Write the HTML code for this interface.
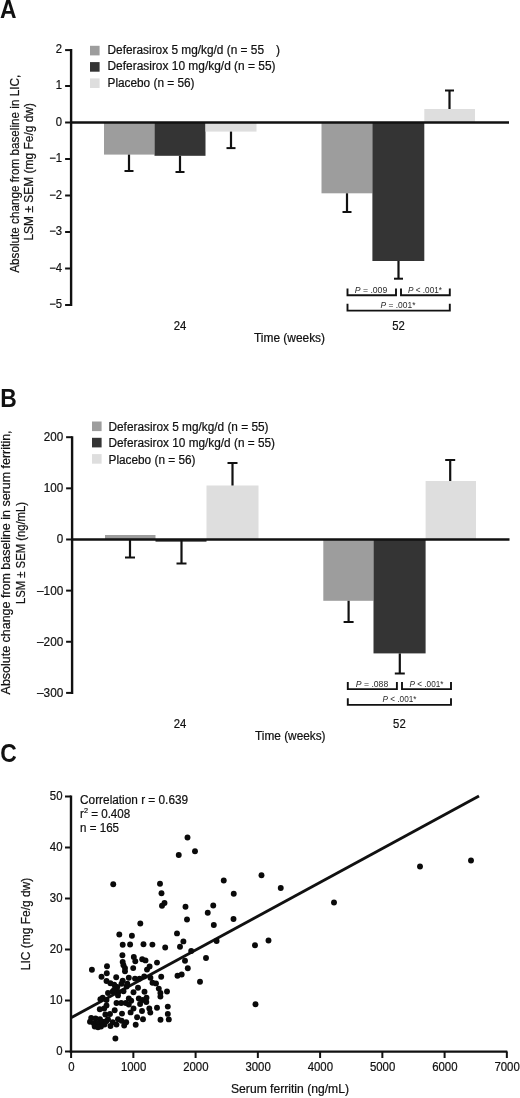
<!DOCTYPE html><html><head><meta charset="utf-8"><style>html,body{margin:0;padding:0;background:#fff}svg{display:block}text{font-family:"Liberation Sans",sans-serif;fill:#111;stroke:#111;stroke-width:0.22px}</style></head><body>
<svg width="520" height="1098" viewBox="0 0 520 1098">
<rect width="520" height="1098" fill="#fff"/>
<g style="opacity:0.999">
<text transform="translate(0.1 18.1) scale(0.9 1)" font-size="25.4" font-weight="bold" style="stroke:none">A</text>
<rect x="90" y="45.8" width="9.6" height="9.6" fill="#9d9d9d"/>
<text x="107.5" y="53.7" font-size="12" text-anchor="start" textLength="156.5" lengthAdjust="spacingAndGlyphs">Deferasirox 5 mg/kg/d (n = 55</text>
<rect x="90" y="62.099999999999994" width="9.6" height="9.6" fill="#343434"/>
<text x="107.5" y="70.4" font-size="12" text-anchor="start" textLength="168" lengthAdjust="spacingAndGlyphs">Deferasirox 10 mg/kg/d (n = 55)</text>
<rect x="90" y="78.4" width="9.6" height="9.6" fill="#dedede"/>
<text x="107.5" y="87.1" font-size="12" text-anchor="start" textLength="87" lengthAdjust="spacingAndGlyphs">Placebo (n = 56)</text>
<text x="276" y="53.7" font-size="12" text-anchor="start">)</text>
<rect x="104" y="122.5" width="50.5" height="32.099999999999994" fill="#9d9d9d"/>
<rect x="154.5" y="122.5" width="51" height="33.30000000000001" fill="#343434"/>
<rect x="205.5" y="122.5" width="51" height="9.099999999999994" fill="#dedede"/>
<rect x="321.5" y="122.5" width="51" height="70.80000000000001" fill="#9d9d9d"/>
<rect x="372.4" y="122.5" width="51.9" height="138.5" fill="#343434"/>
<rect x="424.3" y="109" width="50.7" height="13.5" fill="#dedede"/>
<path d="M129 154.6V171" stroke="#111" stroke-width="2.2" fill="none"/><path d="M124.5 171H133.5" stroke="#111" stroke-width="2" fill="none"/>
<path d="M180 155.8V172" stroke="#111" stroke-width="2.2" fill="none"/><path d="M175.5 172H184.5" stroke="#111" stroke-width="2" fill="none"/>
<path d="M231 131.6V148.1" stroke="#111" stroke-width="2.2" fill="none"/><path d="M226.5 148.1H235.5" stroke="#111" stroke-width="2" fill="none"/>
<path d="M347 193.3V212" stroke="#111" stroke-width="2.2" fill="none"/><path d="M342.5 212H351.5" stroke="#111" stroke-width="2" fill="none"/>
<path d="M398.5 261V278.7" stroke="#111" stroke-width="2.2" fill="none"/><path d="M394.0 278.7H403.0" stroke="#111" stroke-width="2" fill="none"/>
<path d="M449.5 109V90.5" stroke="#111" stroke-width="2.2" fill="none"/><path d="M445.0 90.5H454.0" stroke="#111" stroke-width="2" fill="none"/>
<path d="M71 122.5H509" stroke="#111" stroke-width="2.3"/>
<path d="M71.1 49.1V306" stroke="#111" stroke-width="2.4"/>
<path d="M65.1 50.1H71.1" stroke="#111" stroke-width="2"/>
<text x="62" y="53.4" font-size="12" text-anchor="end" textLength="6.27" lengthAdjust="spacingAndGlyphs">2</text>
<path d="M65.1 86.0H71.1" stroke="#111" stroke-width="2"/>
<text x="62" y="89.3" font-size="12" text-anchor="end" textLength="6.27" lengthAdjust="spacingAndGlyphs">1</text>
<path d="M65.1 122.5H71.1" stroke="#111" stroke-width="2"/>
<text x="62" y="125.8" font-size="12" text-anchor="end" textLength="6.27" lengthAdjust="spacingAndGlyphs">0</text>
<path d="M65.1 159.0H71.1" stroke="#111" stroke-width="2"/>
<text x="62" y="162.3" font-size="12" text-anchor="end" textLength="12.86" lengthAdjust="spacingAndGlyphs">−1</text>
<path d="M65.1 195.5H71.1" stroke="#111" stroke-width="2"/>
<text x="62" y="198.8" font-size="12" text-anchor="end" textLength="12.86" lengthAdjust="spacingAndGlyphs">−2</text>
<path d="M65.1 232.0H71.1" stroke="#111" stroke-width="2"/>
<text x="62" y="235.3" font-size="12" text-anchor="end" textLength="12.86" lengthAdjust="spacingAndGlyphs">−3</text>
<path d="M65.1 268.5H71.1" stroke="#111" stroke-width="2"/>
<text x="62" y="271.8" font-size="12" text-anchor="end" textLength="12.86" lengthAdjust="spacingAndGlyphs">−4</text>
<path d="M65.1 305.0H71.1" stroke="#111" stroke-width="2"/>
<text x="62" y="308.3" font-size="12" text-anchor="end" textLength="12.86" lengthAdjust="spacingAndGlyphs">−5</text>
<path d="M347.5 288.5V295.3H396V288.5" stroke="#111" stroke-width="1.9" fill="none"/>
<path d="M401 288.5V295.3H449.8V288.5" stroke="#111" stroke-width="1.9" fill="none"/>
<path d="M347.5 303.8V310.6H449.8V303.8" stroke="#111" stroke-width="1.9" fill="none"/>
<text x="371" y="293" font-size="8.3" text-anchor="middle" style="stroke:none;fill:#2a2a2a" textLength="32.5" lengthAdjust="spacingAndGlyphs"><tspan font-style="italic">P</tspan> = .009</text>
<text x="425" y="293" font-size="8.3" text-anchor="middle" style="stroke:none;fill:#2a2a2a" textLength="34" lengthAdjust="spacingAndGlyphs"><tspan font-style="italic">P</tspan> &lt; .001*</text>
<text x="398" y="308.3" font-size="8.3" text-anchor="middle" style="stroke:none;fill:#2a2a2a" textLength="35" lengthAdjust="spacingAndGlyphs"><tspan font-style="italic">P</tspan> = .001*</text>
<text x="180" y="329.9" font-size="12.6" text-anchor="middle" textLength="12.61" lengthAdjust="spacingAndGlyphs">24</text>
<text x="398.5" y="329.9" font-size="12.6" text-anchor="middle" textLength="12.61" lengthAdjust="spacingAndGlyphs">52</text>
<text x="289.5" y="341.5" font-size="12" text-anchor="middle" textLength="71" lengthAdjust="spacingAndGlyphs">Time (weeks)</text>
<text x="19" y="173.8" font-size="12" text-anchor="middle" textLength="198" lengthAdjust="spacingAndGlyphs" transform="rotate(-90 19 173.8)">Absolute change from baseline in LIC,</text>
<text x="32.8" y="171.8" font-size="12" text-anchor="middle" textLength="137.5" lengthAdjust="spacingAndGlyphs" transform="rotate(-90 32.8 171.8)">LSM ± SEM (mg Fe/g dw)</text>
<text transform="translate(0.15 407) scale(0.9 1)" font-size="25.4" font-weight="bold" style="stroke:none">B</text>
<rect x="92" y="421.5" width="9.6" height="9.6" fill="#9d9d9d"/>
<text x="108.5" y="431" font-size="12" text-anchor="start" textLength="160" lengthAdjust="spacingAndGlyphs">Deferasirox 5 mg/kg/d (n = 55)</text>
<rect x="92" y="437.8" width="9.6" height="9.6" fill="#343434"/>
<text x="108.5" y="447.4" font-size="12" text-anchor="start" textLength="166.5" lengthAdjust="spacingAndGlyphs">Deferasirox 10 mg/kg/d (n = 55)</text>
<rect x="92" y="454.1" width="9.6" height="9.6" fill="#dedede"/>
<text x="108.5" y="463.7" font-size="12" text-anchor="start" textLength="87" lengthAdjust="spacingAndGlyphs">Placebo (n = 56)</text>
<rect x="105" y="535" width="50.5" height="4.5" fill="#9d9d9d"/>
<rect x="155.5" y="539.5" width="51" height="2.2" fill="#343434"/>
<rect x="206.5" y="485.5" width="52" height="54.0" fill="#dedede"/>
<rect x="323.3" y="539.5" width="50.2" height="61.299999999999955" fill="#9d9d9d"/>
<rect x="373.5" y="539.5" width="52.1" height="113.89999999999998" fill="#343434"/>
<rect x="425.6" y="481" width="50.4" height="58.5" fill="#dedede"/>
<path d="M130 539.5V557.5" stroke="#111" stroke-width="2.2" fill="none"/><path d="M125.0 557.5H135.0" stroke="#111" stroke-width="2" fill="none"/>
<path d="M181.5 539.5V563.5" stroke="#111" stroke-width="2.2" fill="none"/><path d="M176.5 563.5H186.5" stroke="#111" stroke-width="2" fill="none"/>
<path d="M232.5 485.5V463" stroke="#111" stroke-width="2.2" fill="none"/><path d="M227.5 463H237.5" stroke="#111" stroke-width="2" fill="none"/>
<path d="M348.6 600.8V622" stroke="#111" stroke-width="2.2" fill="none"/><path d="M343.6 622H353.6" stroke="#111" stroke-width="2" fill="none"/>
<path d="M399.8 653.4V673.5" stroke="#111" stroke-width="2.2" fill="none"/><path d="M394.8 673.5H404.8" stroke="#111" stroke-width="2" fill="none"/>
<path d="M450.2 481V460" stroke="#111" stroke-width="2.2" fill="none"/><path d="M445.2 460H455.2" stroke="#111" stroke-width="2" fill="none"/>
<path d="M72.5 539.5H509.5" stroke="#111" stroke-width="2.3"/>
<path d="M72.1 436.2V693.9" stroke="#111" stroke-width="2.4"/>
<path d="M66.1 437.2H72.1" stroke="#111" stroke-width="2"/>
<text x="63.3" y="441.09999999999997" font-size="12.4" text-anchor="end" textLength="19.44" lengthAdjust="spacingAndGlyphs">200</text>
<path d="M66.1 488.34H72.1" stroke="#111" stroke-width="2"/>
<text x="63.3" y="492.23999999999995" font-size="12.4" text-anchor="end" textLength="19.44" lengthAdjust="spacingAndGlyphs">100</text>
<path d="M66.1 539.48H72.1" stroke="#111" stroke-width="2"/>
<text x="63.3" y="543.38" font-size="12.4" text-anchor="end" textLength="6.48" lengthAdjust="spacingAndGlyphs">0</text>
<path d="M66.1 590.62H72.1" stroke="#111" stroke-width="2"/>
<text x="63.3" y="594.52" font-size="12.4" text-anchor="end" textLength="26.25" lengthAdjust="spacingAndGlyphs">–100</text>
<path d="M66.1 641.76H72.1" stroke="#111" stroke-width="2"/>
<text x="63.3" y="645.66" font-size="12.4" text-anchor="end" textLength="26.25" lengthAdjust="spacingAndGlyphs">–200</text>
<path d="M66.1 692.9H72.1" stroke="#111" stroke-width="2"/>
<text x="63.3" y="696.8" font-size="12.4" text-anchor="end" textLength="26.25" lengthAdjust="spacingAndGlyphs">–300</text>
<path d="M347.8 682V689.1H396.9V682" stroke="#111" stroke-width="1.9" fill="none"/>
<path d="M402 682V689.1H451V682" stroke="#111" stroke-width="1.9" fill="none"/>
<path d="M347.8 698.2V704.9H451V698.2" stroke="#111" stroke-width="1.9" fill="none"/>
<text x="372" y="686.8" font-size="8.3" text-anchor="middle" style="stroke:none;fill:#2a2a2a" textLength="32.5" lengthAdjust="spacingAndGlyphs"><tspan font-style="italic">P</tspan> = .088</text>
<text x="426.5" y="686.8" font-size="8.3" text-anchor="middle" style="stroke:none;fill:#2a2a2a" textLength="34" lengthAdjust="spacingAndGlyphs"><tspan font-style="italic">P</tspan> &lt; .001*</text>
<text x="399.5" y="702.3" font-size="8.3" text-anchor="middle" style="stroke:none;fill:#2a2a2a" textLength="34" lengthAdjust="spacingAndGlyphs"><tspan font-style="italic">P</tspan> &lt; .001*</text>
<text x="180" y="728.2" font-size="12.6" text-anchor="middle" textLength="12.61" lengthAdjust="spacingAndGlyphs">24</text>
<text x="399.4" y="728.2" font-size="12.6" text-anchor="middle" textLength="12.61" lengthAdjust="spacingAndGlyphs">52</text>
<text x="290.3" y="740.4" font-size="12" text-anchor="middle" textLength="70.5" lengthAdjust="spacingAndGlyphs">Time (weeks)</text>
<text x="10" y="562.4" font-size="12" text-anchor="middle" textLength="264" lengthAdjust="spacingAndGlyphs" transform="rotate(-90 10 562.4)">Absolute change from baseline in serum ferritin,</text>
<text x="25" y="553" font-size="12" text-anchor="middle" textLength="102" lengthAdjust="spacingAndGlyphs" transform="rotate(-90 25 553)">LSM ± SEM (ng/mL)</text>
<text transform="translate(0.2 761.7) scale(0.9 1)" font-size="25.4" font-weight="bold" style="stroke:none">C</text>
<path d="M71 795.5V1052.7" stroke="#111" stroke-width="2.4"/>
<path d="M69.8 1051.6H507.3" stroke="#111" stroke-width="2.3"/>
<path d="M65 796.5H71" stroke="#111" stroke-width="2"/>
<text x="62.5" y="800.0" font-size="12" text-anchor="end" textLength="12.68" lengthAdjust="spacingAndGlyphs">50</text>
<path d="M65 847.5H71" stroke="#111" stroke-width="2"/>
<text x="62.5" y="851.0" font-size="12" text-anchor="end" textLength="12.68" lengthAdjust="spacingAndGlyphs">40</text>
<path d="M65 898.5H71" stroke="#111" stroke-width="2"/>
<text x="62.5" y="902.0" font-size="12" text-anchor="end" textLength="12.68" lengthAdjust="spacingAndGlyphs">30</text>
<path d="M65 949.5H71" stroke="#111" stroke-width="2"/>
<text x="62.5" y="953.0" font-size="12" text-anchor="end" textLength="12.68" lengthAdjust="spacingAndGlyphs">20</text>
<path d="M65 1000.5H71" stroke="#111" stroke-width="2"/>
<text x="62.5" y="1004.0" font-size="12" text-anchor="end" textLength="12.68" lengthAdjust="spacingAndGlyphs">10</text>
<path d="M65 1051.5H71" stroke="#111" stroke-width="2"/>
<text x="62.5" y="1055.0" font-size="12" text-anchor="end" textLength="6.34" lengthAdjust="spacingAndGlyphs">0</text>
<path d="M71.1 1051.5V1058" stroke="#111" stroke-width="2"/>
<text x="71.3" y="1071.4" font-size="12" text-anchor="middle" textLength="6.34" lengthAdjust="spacingAndGlyphs">0</text>
<path d="M133.35 1051.5V1058" stroke="#111" stroke-width="2"/>
<text x="133.54999999999998" y="1071.4" font-size="12" text-anchor="middle" textLength="25.35" lengthAdjust="spacingAndGlyphs">1000</text>
<path d="M195.6 1051.5V1058" stroke="#111" stroke-width="2"/>
<text x="195.79999999999998" y="1071.4" font-size="12" text-anchor="middle" textLength="25.35" lengthAdjust="spacingAndGlyphs">2000</text>
<path d="M257.85 1051.5V1058" stroke="#111" stroke-width="2"/>
<text x="258.05" y="1071.4" font-size="12" text-anchor="middle" textLength="25.35" lengthAdjust="spacingAndGlyphs">3000</text>
<path d="M320.1 1051.5V1058" stroke="#111" stroke-width="2"/>
<text x="320.3" y="1071.4" font-size="12" text-anchor="middle" textLength="25.35" lengthAdjust="spacingAndGlyphs">4000</text>
<path d="M382.35 1051.5V1058" stroke="#111" stroke-width="2"/>
<text x="382.55" y="1071.4" font-size="12" text-anchor="middle" textLength="25.35" lengthAdjust="spacingAndGlyphs">5000</text>
<path d="M444.6 1051.5V1058" stroke="#111" stroke-width="2"/>
<text x="444.8" y="1071.4" font-size="12" text-anchor="middle" textLength="25.35" lengthAdjust="spacingAndGlyphs">6000</text>
<path d="M506.85 1051.5V1058" stroke="#111" stroke-width="2"/>
<text x="507.05" y="1071.4" font-size="12" text-anchor="middle" textLength="25.35" lengthAdjust="spacingAndGlyphs">7000</text>
<text x="80.1" y="803.7" font-size="12" text-anchor="start" textLength="108" lengthAdjust="spacingAndGlyphs">Correlation r = 0.639</text>
<text x="80.1" y="818" font-size="12" text-anchor="start" textLength="50.1" lengthAdjust="spacingAndGlyphs">r<tspan font-size="7.5" dy="-5">2</tspan><tspan dy="5"> = 0.408</tspan></text>
<text x="80.1" y="831.8" font-size="12" text-anchor="start" textLength="38.9" lengthAdjust="spacingAndGlyphs">n = 165</text>
<text x="290" y="1093" font-size="12" text-anchor="middle" textLength="118" lengthAdjust="spacingAndGlyphs">Serum ferritin (ng/mL)</text>
<text x="29.6" y="924" font-size="12" text-anchor="middle" textLength="92.5" lengthAdjust="spacingAndGlyphs" transform="rotate(-90 29.6 924)">LIC (mg Fe/g dw)</text>
<path d="M71.5 1017.5L479 796" stroke="#111" stroke-width="2.9" stroke-linecap="butt"/>
<g fill="#0a0a0a"><circle cx="187.5" cy="837.5" r="2.95"/><circle cx="195" cy="851.25" r="2.95"/><circle cx="178.75" cy="855" r="2.95"/><circle cx="113.25" cy="884.25" r="2.95"/><circle cx="160" cy="883.75" r="2.95"/><circle cx="161.5" cy="893.25" r="2.95"/><circle cx="164.5" cy="903" r="2.95"/><circle cx="162" cy="905.75" r="2.95"/><circle cx="185.5" cy="906.75" r="2.95"/><circle cx="187" cy="919.5" r="2.95"/><circle cx="140.3" cy="923.5" r="2.95"/><circle cx="223.75" cy="880.5" r="2.95"/><circle cx="261.5" cy="875.25" r="2.95"/><circle cx="280.75" cy="888" r="2.95"/><circle cx="233.75" cy="893.75" r="2.95"/><circle cx="213.25" cy="905.5" r="2.95"/><circle cx="207.75" cy="912.75" r="2.95"/><circle cx="233.5" cy="919" r="2.95"/><circle cx="213.8" cy="925" r="2.95"/><circle cx="334" cy="902.5" r="2.95"/><circle cx="420" cy="866.5" r="2.95"/><circle cx="471" cy="860.5" r="2.95"/><circle cx="268.5" cy="940.5" r="2.95"/><circle cx="255" cy="945.25" r="2.95"/><circle cx="255.5" cy="1004.25" r="2.95"/><circle cx="177" cy="933.4" r="2.95"/><circle cx="183.4" cy="941.4" r="2.95"/><circle cx="180" cy="946.8" r="2.95"/><circle cx="216.6" cy="941" r="2.95"/><circle cx="191.2" cy="951" r="2.95"/><circle cx="206" cy="958" r="2.95"/><circle cx="185" cy="960.7" r="2.95"/><circle cx="187.8" cy="968.3" r="2.95"/><circle cx="181.7" cy="974.5" r="2.95"/><circle cx="177.5" cy="975.8" r="2.95"/><circle cx="200" cy="981.7" r="2.95"/><circle cx="165.2" cy="947.5" r="2.95"/><circle cx="152.4" cy="944.6" r="2.95"/><circle cx="143.5" cy="944.2" r="2.95"/><circle cx="130.1" cy="944.5" r="2.95"/><circle cx="122.7" cy="944.7" r="2.95"/><circle cx="119.3" cy="934.5" r="2.95"/><circle cx="131.9" cy="935.8" r="2.95"/><circle cx="122.4" cy="955.3" r="2.95"/><circle cx="133.8" cy="957" r="2.95"/><circle cx="135.3" cy="961.2" r="2.95"/><circle cx="142.2" cy="959.2" r="2.95"/><circle cx="145.5" cy="960.4" r="2.95"/><circle cx="122.7" cy="961.9" r="2.95"/><circle cx="123.5" cy="965.3" r="2.95"/><circle cx="125" cy="968.1" r="2.95"/><circle cx="125" cy="971.2" r="2.95"/><circle cx="133.2" cy="968.1" r="2.95"/><circle cx="149.6" cy="966.5" r="2.95"/><circle cx="147" cy="969.6" r="2.95"/><circle cx="157" cy="962.6" r="2.95"/><circle cx="107" cy="966.2" r="2.95"/><circle cx="91.9" cy="969.7" r="2.95"/><circle cx="106.8" cy="973.3" r="2.95"/><circle cx="101.5" cy="976.7" r="2.95"/><circle cx="116.2" cy="977.2" r="2.95"/><circle cx="106.5" cy="981" r="2.95"/><circle cx="110.4" cy="983.3" r="2.95"/><circle cx="114.2" cy="984.6" r="2.95"/><circle cx="122.7" cy="980.6" r="2.95"/><circle cx="128.8" cy="977.8" r="2.95"/><circle cx="135" cy="978.6" r="2.95"/><circle cx="139.6" cy="978.6" r="2.95"/><circle cx="144.2" cy="976.4" r="2.95"/><circle cx="150.4" cy="977.8" r="2.95"/><circle cx="161.2" cy="976.8" r="2.95"/><circle cx="152.5" cy="982.8" r="2.95"/><circle cx="156" cy="983.4" r="2.95"/><circle cx="117.3" cy="987" r="2.95"/><circle cx="118.4" cy="992" r="2.95"/><circle cx="126.6" cy="986.5" r="2.95"/><circle cx="127.3" cy="983.8" r="2.95"/><circle cx="138" cy="987.7" r="2.95"/><circle cx="133.5" cy="992.3" r="2.95"/><circle cx="144.5" cy="991.7" r="2.95"/><circle cx="158.8" cy="988.6" r="2.95"/><circle cx="167" cy="991.5" r="2.95"/><circle cx="160.4" cy="992.9" r="2.95"/><circle cx="160.4" cy="996.6" r="2.95"/><circle cx="108" cy="993" r="2.95"/><circle cx="112.7" cy="991.5" r="2.95"/><circle cx="118" cy="995.4" r="2.95"/><circle cx="102.7" cy="997.7" r="2.95"/><circle cx="100.4" cy="999.2" r="2.95"/><circle cx="106.5" cy="1000" r="2.95"/><circle cx="128.8" cy="998.5" r="2.95"/><circle cx="131.2" cy="1000.8" r="2.95"/><circle cx="138.8" cy="998.5" r="2.95"/><circle cx="142.7" cy="1000" r="2.95"/><circle cx="146.5" cy="997.7" r="2.95"/><circle cx="146.3" cy="1002" r="2.95"/><circle cx="116.5" cy="1003" r="2.95"/><circle cx="121.2" cy="1003" r="2.95"/><circle cx="125.8" cy="1003" r="2.95"/><circle cx="128.8" cy="1004.6" r="2.95"/><circle cx="106.5" cy="1005.4" r="2.95"/><circle cx="99.8" cy="1009.2" r="2.95"/><circle cx="104.2" cy="1008.5" r="2.95"/><circle cx="114.7" cy="1010.3" r="2.95"/><circle cx="133.5" cy="1008.5" r="2.95"/><circle cx="130.6" cy="1012.4" r="2.95"/><circle cx="142" cy="1011" r="2.95"/><circle cx="149.3" cy="1008.4" r="2.95"/><circle cx="150.3" cy="1012.6" r="2.95"/><circle cx="157" cy="1007.8" r="2.95"/><circle cx="167.8" cy="1006.6" r="2.95"/><circle cx="167.8" cy="1013.9" r="2.95"/><circle cx="168.8" cy="1019.4" r="2.95"/><circle cx="160.5" cy="1019.8" r="2.95"/><circle cx="105.4" cy="1014.5" r="2.95"/><circle cx="110" cy="1014" r="2.95"/><circle cx="122" cy="1013.6" r="2.95"/><circle cx="137.1" cy="1017.2" r="2.95"/><circle cx="143" cy="1019.2" r="2.95"/><circle cx="91.2" cy="1018" r="2.95"/><circle cx="95.6" cy="1018.5" r="2.95"/><circle cx="100" cy="1019.2" r="2.95"/><circle cx="90" cy="1021.8" r="2.95"/><circle cx="93.8" cy="1023.2" r="2.95"/><circle cx="98" cy="1023.5" r="2.95"/><circle cx="102.5" cy="1021.8" r="2.95"/><circle cx="108" cy="1019.2" r="2.95"/><circle cx="112.7" cy="1022.3" r="2.95"/><circle cx="118" cy="1019.2" r="2.95"/><circle cx="121.6" cy="1020.8" r="2.95"/><circle cx="126.2" cy="1022.3" r="2.95"/><circle cx="116.5" cy="1024.6" r="2.95"/><circle cx="135.7" cy="1024.8" r="2.95"/><circle cx="94.7" cy="1026.5" r="2.95"/><circle cx="110.5" cy="1026" r="2.95"/><circle cx="115.4" cy="1038.5" r="2.95"/><circle cx="121.5" cy="983.7" r="2.95"/><circle cx="114.2" cy="989.7" r="2.95"/><circle cx="123.5" cy="991.2" r="2.95"/><circle cx="104.5" cy="1024.5" r="2.95"/><circle cx="101" cy="1026.5" r="2.95"/><circle cx="98" cy="1027.3" r="2.95"/><circle cx="106.3" cy="1021.2" r="2.95"/><circle cx="140.1" cy="1004" r="2.95"/><circle cx="124.2" cy="1025.5" r="2.95"/></g>
</g></svg></body></html>
